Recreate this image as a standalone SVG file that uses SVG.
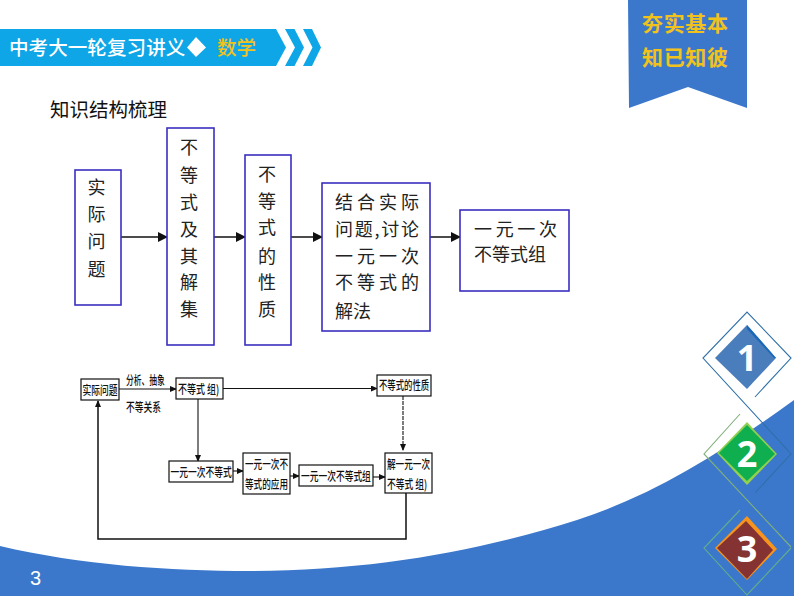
<svg xmlns="http://www.w3.org/2000/svg" width="794" height="596" viewBox="0 0 794 596">
<style>
text{font-family:"Noto Sans CJK SC","Liberation Sans",sans-serif}
.hd{fill:#0ea6e6}
.bx{fill:#fff;stroke:#3a2fc0;stroke-width:1.6}
.t{font-size:18px;fill:#222;text-anchor:middle}
.l{font-size:18px;fill:#222}
.sb{fill:#fff;stroke:#111;stroke-width:1.2}
.s{font-size:12.500px;font-weight:500;fill:#111}
.c1{fill:none;stroke:#111;stroke-width:1.5}
.c2{fill:none;stroke:#111;stroke-width:1.1}
.rb{font-size:21px;font-weight:700;fill:#f2c21c}
.num{font-family:"Open Sans","Liberation Sans",sans-serif;font-size:36px;font-weight:700;fill:#fff;text-anchor:middle}
</style>
<defs>
<marker id="a" markerWidth="10" markerHeight="10" refX="9" refY="5" orient="auto" markerUnits="userSpaceOnUse"><path d="M0,0L10,5L0,10Z" fill="#111"/></marker>
<marker id="b" markerWidth="7" markerHeight="6" refX="6" refY="3" orient="auto" markerUnits="userSpaceOnUse"><path d="M0,0L7,3L0,6Z" fill="#111"/></marker>
</defs>
<rect width="794" height="596" fill="#fff"/>
<path id="background-curve" d="M0,546C80,565 170,571 250,571C370,571 480,551 577,520C655,495 725,450 794,400V596H0Z" fill="#3b78cc"/>
<g id="header">
<path class="hd" d="M0,29H276L286,47.5L276,66H0Z"/>
<path class="hd" d="M285,29H294.500L304,47.500L294.500,66H285L295,47.500Z"/>
<path class="hd" d="M303,29H312L321,47.500L312,66H303L312.500,47.500Z"/>
<text x="9" y="54.500" font-size="19.600" font-weight="500" fill="#fff">中考大一轮复习讲义</text>
<path d="M196,37L206,47.500L196,57L187,47.500Z" fill="#fff"/>
<text x="217" y="54.500" font-size="19.600" font-weight="500" fill="#f2c21c">数学</text>
</g>
<g id="ribbon">
<path d="M628,0H747V108L688,87L629,108Z" fill="#3b78cc"/>
<text class="rb" x="642" y="31" textLength="86">夯实基本</text>
<text class="rb" x="642" y="65" textLength="86">知已知彼</text>
</g>
<text id="title" x="50" y="117" font-size="19.500" fill="#111">知识结构梳理</text>
<g id="upper-connectors">
<path class="c1" marker-end="url(#a)" d="M121,237H167"/>
<path class="c1" marker-end="url(#a)" d="M214,237H245"/>
<path class="c1" marker-end="url(#a)" d="M291,237H322"/>
<path class="c1" marker-end="url(#a)" d="M430,237H460"/>
</g>
<g id="node-shiji">
<rect class="bx" x="75" y="170" width="46" height="135"/>
<text class="t"><tspan x="96.500" y="194">实</tspan><tspan x="96.500" y="221">际</tspan><tspan x="96.500" y="248">问</tspan><tspan x="96.500" y="276">题</tspan></text>
</g>
<g id="node-jieji">
<rect class="bx" x="167" y="128" width="47" height="217"/>
<text class="t"><tspan x="189" y="154">不</tspan><tspan x="189" y="182">等</tspan><tspan x="189" y="209">式</tspan><tspan x="189" y="236">及</tspan><tspan x="189" y="263">其</tspan><tspan x="189" y="289">解</tspan><tspan x="189" y="316">集</tspan></text>
</g>
<g id="node-xingzhi">
<rect class="bx" x="245" y="155" width="46" height="190"/>
<text class="t"><tspan x="267" y="181">不</tspan><tspan x="267" y="208">等</tspan><tspan x="267" y="234">式</tspan><tspan x="267" y="263">的</tspan><tspan x="267" y="289">性</tspan><tspan x="267" y="316">质</tspan></text>
</g>
<g id="node-jiefa">
<rect class="bx" x="322" y="183" width="108" height="148"/>
<text class="l" x="335" y="209" textLength="84">结合实际</text>
<text class="l" x="335" y="236" textLength="84">问题,讨论</text>
<text class="l" x="335" y="263" textLength="84">一元一次</text>
<text class="l" x="335" y="289" textLength="84">不等式的</text>
<text class="l" x="335" y="318">解法</text>
</g>
<g id="node-zu">
<rect class="bx" x="460" y="210" width="109" height="81"/>
<text class="l" x="474" y="236" textLength="83">一元一次</text>
<text class="l" x="474" y="261">不等式组</text>
</g>
<g id="lower-connectors">
<path class="c2" marker-end="url(#b)" d="M119,389H176"/>
<path class="c2" marker-end="url(#b)" d="M223,388.500H377"/>
<path class="c2" marker-end="url(#b)" d="M198,399V461"/>
<path class="c2" marker-end="url(#b)" d="M233,471H243"/>
<path class="c2" marker-end="url(#b)" d="M290,476H299"/>
<path class="c2" marker-end="url(#b)" d="M373,477H385"/>
<path class="c2" stroke-dasharray="4 1" marker-end="url(#b)" d="M403,396V450"/>
<path class="c1" stroke="#333" marker-end="url(#b)" d="M406,493V539H98V401"/>
</g>
<text class="s" transform="translate(126,385) scale(.62,1)">分析、抽象</text>
<text class="s" transform="translate(126,412) scale(.7,1)">不等关系</text>
<g id="low-shiji">
<rect class="sb" x="81" y="379" width="38" height="21"/>
<text class="s" transform="translate(82.500,394.500) scale(.7,1)">实际问题</text>
</g>
<g id="low-budengshi">
<rect class="sb" x="176" y="378" width="47" height="21"/>
<text class="s" transform="translate(178,393.500) scale(.72,1)">不等式 组)</text>
</g>
<g id="low-yiyuan">
<rect class="sb" x="169" y="461" width="64" height="21"/>
<text class="s" transform="translate(170.500,476.500) scale(.7,1)">一元一次不等式</text>
</g>
<g id="low-yingyong">
<rect class="sb" x="243" y="453" width="47" height="41"/>
<text class="s" transform="translate(245,469) scale(.69,1)">一元一次不</text>
<text class="s" transform="translate(245,489) scale(.69,1)">等式的应用</text>
</g>
<g id="low-zu">
<rect class="sb" x="299" y="465" width="74" height="21"/>
<text class="s" transform="translate(301,481) scale(.7,1)">一元一次不等式组</text>
</g>
<g id="low-jie">
<rect class="sb" x="385" y="453" width="47" height="40"/>
<text class="s" transform="translate(387,468.500) scale(.69,1)">解一元一次</text>
<text class="s" transform="translate(387,488.500) scale(.7,1)">不等式 组)</text>
</g>
<g id="low-xingzhi">
<rect class="sb" x="377" y="375" width="54" height="21"/>
<text class="s" transform="translate(379,390) scale(.67,1)">不等式的性质</text>
</g>
<g id="badge-1">
<path d="M755,397L791,358L747,312L703,358L791,454L755,493" fill="none" stroke="#2f6fa8" stroke-width="1.100"/>
<path d="M715,358L747,325L776,358L747,389Z" fill="#4a7dbb"/>
<path d="M747,325L776,358L774,358L747,329Z" fill="#1a68b8"/>
<text class="num" x="747" y="371">1</text>
</g>
<g id="badge-2">
<path d="M740,414L704,454L791,547" fill="none" stroke="#7fb07a" stroke-width="1.100"/>
<path d="M717,453L747,422L777,454L747,485Z" fill="#92d050"/>
<path d="M719,453L747,425L775,454L747,481Z" fill="#0fae4f"/>
<text class="num" x="747" y="467">2</text>
</g>
<g id="badge-3">
<path d="M740,510L704,548L747,595L791,548" fill="none" stroke="#63ad8a" stroke-width="1.100"/>
<path d="M715,548L747,516L777,549L747,580Z" fill="#f7941d"/>
<path d="M717,548L746,521L773,550L747,579Z" fill="#853232"/>
<text class="num" x="747" y="562">3</text>
</g>
<text id="page-number" x="30" y="585" font-size="20" fill="#fff" style="font-family:'Liberation Sans',sans-serif">3</text>
</svg>
